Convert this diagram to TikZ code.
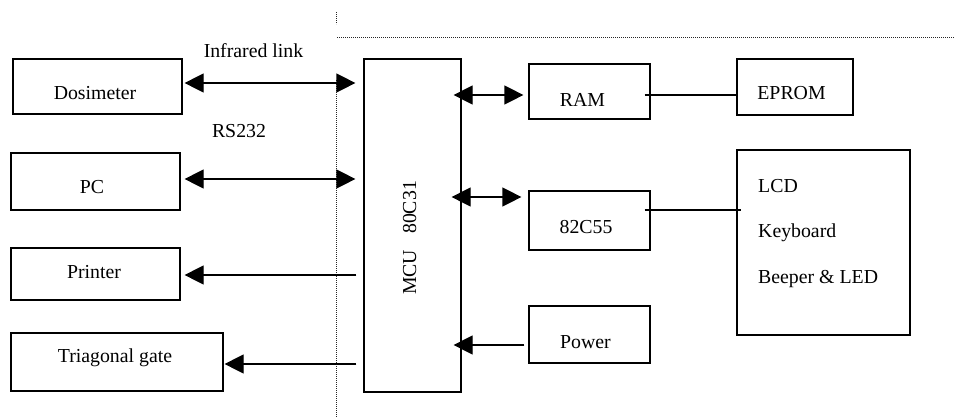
\documentclass[tikz,border=0pt]{standalone}
\usepackage{fontspec}
\setmainfont{Liberation Serif}
\usetikzlibrary{arrows.meta,calc}
\begin{document}
\begin{tikzpicture}[x=1pt,y=-1pt,
  box/.style={draw, line width=1.2pt, inner sep=0pt, rectangle},
  lbl/.style={inner sep=0pt, font=\fontsize{19.8pt}{22pt}\selectfont, anchor=base},
  conn/.style={line width=1.2pt},
  dbl/.style={conn, {Triangle[length=19pt,width=19pt]}-{Triangle[length=19pt,width=19pt]}},
  sgl/.style={conn, -{Triangle[length=19pt,width=19pt]}},
  dotline/.style={line width=0.9pt, dash pattern=on 0.9pt off 1.1pt, black!85}]
\useasboundingbox (0,0) rectangle (954,418);
% boxes
\node[box, minimum width=169pt, minimum height=55pt] (dos) at (97.5,86.5) {};
\node[box, minimum width=169pt, minimum height=57pt] (pc) at (95.5,181.5) {};
\node[box, minimum width=169pt, minimum height=52pt] (prn) at (95.5,274) {};
\node[box, minimum width=212pt, minimum height=58pt] (tri) at (117,362) {};
\node[box, minimum width=97pt, minimum height=333pt] (mcu) at (412.5,225.5) {};
\node[box, minimum width=121pt, minimum height=55pt] (ram) at (589.5,91.5) {};
\node[box, minimum width=116pt, minimum height=56pt] (eprom) at (795,87) {};
\node[box, minimum width=121pt, minimum height=59pt] (ppi) at (589.5,220.5) {};
\node[box, minimum width=173pt, minimum height=185pt] (lcd) at (823.5,242.5) {};
\node[box, minimum width=121pt, minimum height=57pt] (pwr) at (589.5,334.5) {};
% texts
\node[lbl] (tdos) at (95,99) {Dosimeter};
\node[lbl] (tpc) at (92,193) {PC};
\node[lbl] (tprn) at (94,278) {Printer};
\node[lbl] (ttri) at (115,362) {Triagonal gate};
\node[lbl] (tir) at (253.5,57) {Infrared link};
\node[lbl] (trs) at (239,137) {RS232};
\node[lbl, rotate=90] (tmcu) at (416,238) {MCU\hspace{16pt}80C31};
\node[lbl] (tram) at (582.5,106) {RAM};
\node[lbl] (teprom) at (791.5,99) {EPROM};
\node[lbl] (tppi) at (586,233) {82C55};
\node[lbl] (tpwr) at (585.5,348) {Power};
\node[lbl, anchor=base west] (tlcd) at (758,192) {LCD};
\node[lbl, anchor=base west] (tkey) at (758,237) {Keyboard};
\node[lbl, anchor=base west] (tbeep) at (758,283) {Beeper \& LED};
% dotted boundary
\coordinate (d1) at (336,12);
\coordinate (d2) at (336,24);
\coordinate (d3) at (337,37);
\coordinate (d4) at (954,37);
\coordinate (d5) at (336,80);
\coordinate (d6) at (336,418);
\draw[dotline] (d1) -- (d2);
\draw[dotline] (d3) -- (d4);
\draw[dotline] (d5) -- (d6);
% connectors left
\draw[dbl, shorten <=2pt, shorten >=8pt] ([yshift=3.5pt]dos.east) -- ([yshift=3.5pt]dos.east -| mcu.west);
\draw[dbl, shorten <=4pt, shorten >=8pt] ([yshift=2.5pt]pc.east) -- ([yshift=2.5pt]pc.east -| mcu.west);
\draw[sgl, shorten <=7pt, shorten >=4pt] ([yshift=-1pt]prn.east -| mcu.west) -- ([yshift=-1pt]prn.east);
\draw[sgl, shorten <=7pt, shorten >=1pt] ([yshift=-2pt]tri.east -| mcu.west) -- ([yshift=-2pt]tri.east);
% connectors right
\draw[dbl, shorten <=-8pt, shorten >=5pt] ([yshift=-3.5pt]ram.west -| mcu.east) -- ([yshift=-3.5pt]ram.west);
\draw[dbl, shorten <=-10pt, shorten >=7pt] ([yshift=23.5pt]ppi.west -| mcu.east) -- ([yshift=23.5pt]ppi.west);
\draw[sgl, shorten <=4pt, shorten >=-8pt] ([yshift=-10.5pt]pwr.west) -- ([yshift=-10.5pt]pwr.west -| mcu.east);
\draw[conn, shorten <=-6pt] ([yshift=-3.5pt]ram.east) -- ([yshift=-3.5pt]ram.east -| eprom.west);
\draw[conn, shorten <=-6pt, shorten >=-5pt] ([yshift=10.5pt]ppi.east) -- ([yshift=10.5pt]ppi.east -| lcd.west);
\end{tikzpicture}
\end{document}
